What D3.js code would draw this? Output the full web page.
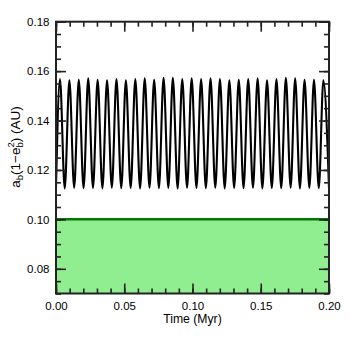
<!DOCTYPE html>
<html>
<head>
<meta charset="utf-8">
<script src="https://cdn.jsdelivr.net/npm/d3@7"></script>
<style>
  body { margin: 0; background: #fff; }
  text { font-family: "Liberation Sans", Arial, sans-serif; }
</style>
</head>
<body>
<script>
// peaks and troughs of a_b(1-e_b^2)
const peakTimes = [0.0029, 0.0098, 0.0167, 0.0236, 0.0305, 0.0374, 0.0443, 0.0512, 0.0581, 0.0650,
  0.0719, 0.0788, 0.0856, 0.0925, 0.0994, 0.1063, 0.1132, 0.1201, 0.1270, 0.1339,
  0.1408, 0.1477, 0.1546, 0.1615, 0.1684, 0.1752, 0.1821, 0.1890, 0.1959]
const peakValues = [0.1568, 0.1563, 0.1565, 0.1571, 0.1565, 0.1563, 0.1568, 0.1563, 0.1568, 0.1571,
  0.1565, 0.1573, 0.1573, 0.1568, 0.1571, 0.1568, 0.1571, 0.1568, 0.1563, 0.1565,
  0.1568, 0.1571, 0.1563, 0.1568, 0.1573, 0.1571, 0.1565, 0.1565, 0.1563]
const troughTimes = [0.0000, 0.0064, 0.0133, 0.0202, 0.0271, 0.0340, 0.0409, 0.0478, 0.0547, 0.0616,
  0.0685, 0.0754, 0.0823, 0.0891, 0.0960, 0.1029, 0.1098, 0.1167, 0.1236, 0.1305,
  0.1374, 0.1443, 0.1512, 0.1581, 0.1650, 0.1719, 0.1787, 0.1856, 0.1925, 0.2000]
const troughValues = [0.1127, 0.1125, 0.1128, 0.1126, 0.1127, 0.1125, 0.1128, 0.1126, 0.1127, 0.1125,
  0.1128, 0.1126, 0.1127, 0.1125, 0.1128, 0.1127, 0.1126, 0.1128, 0.1125, 0.1127,
  0.1126, 0.1128, 0.1125, 0.1127, 0.1126, 0.1128, 0.1125, 0.1127, 0.1126, 0.1127]

// shaded region below this limit
const limitValue = 0.10

const xTicks = [0, 0.05, 0.10, 0.15, 0.20]
const yTicks = [0.08, 0.10, 0.12, 0.14, 0.16, 0.18]

const xDomain = [0, 0.2]
const yDomain = [0.07, 0.18]

// setup the plot area
const width = 350
const height = 350
const margin = { top: 21.7, right: 21, bottom: 56.5, left: 56 }

const svg = d3.select('body')
  .append('svg')
  .attr('width', width)
  .attr('height', height)

const xScale = d3.scaleLinear()
  .domain(xDomain)
  .range([margin.left, width - margin.right])

const yScale = d3.scaleLinear()
  .domain(yDomain)
  .range([height - margin.bottom, margin.top])

// green zone
svg.append('rect')
  .attr('x', xScale(xDomain[0]))
  .attr('y', yScale(limitValue))
  .attr('width', xScale(xDomain[1]) - xScale(xDomain[0]))
  .attr('height', yScale(yDomain[0]) - yScale(limitValue))
  .style('fill', '#90ee90')

svg.append('line')
  .attr('x1', xScale(xDomain[0]))
  .attr('x2', xScale(xDomain[1]))
  .attr('y1', yScale(limitValue))
  .attr('y2', yScale(limitValue))
  .style('stroke', '#007a00')
  .style('stroke-width', '2.5px')

// merge extrema into one time series
const points = peakTimes.map((t, i) => ({ t, v: peakValues[i] }))
  .concat(troughTimes.map((t, i) => ({ t, v: troughValues[i] })))
  .sort((a, b) => a.t - b.t)

const line = d3.line()
  .x(d => xScale(d.t))
  .y(d => yScale(d.v))
  .curve(d3.curveMonotoneX)

svg.append('clipPath')
  .attr('id', 'plotClip')
  .append('rect')
  .attr('x', xScale(xDomain[0]))
  .attr('y', yScale(yDomain[1]))
  .attr('width', xScale(xDomain[1]) - xScale(xDomain[0]))
  .attr('height', yScale(yDomain[0]) - yScale(yDomain[1]))

svg.append('path')
  .datum(points)
  .attr('clip-path', 'url(#plotClip)')
  .attr('d', line)
  .style('fill', 'none')
  .style('stroke', 'black')
  .style('stroke-width', '2.1px')
  .style('stroke-linejoin', 'round')

//
// axes: major and minor ticks pointing inward on all four sides
//
const xMinor = d3.range(0, 0.2001, 0.01)
const yMinor = d3.range(0.07, 0.1801, 0.005)
const fmt = d3.format('.2f')

function addAxis(axis, translate, cls) {
  const g = svg.append('g')
    .attr('class', cls)
    .attr('transform', translate)
    .attr('color', '#000')
    .call(axis)
  g.select('.domain').remove()
  g.selectAll('.tick line')
    .attr('stroke', '#222')
    .style('stroke-width', '1.6px')
  g.selectAll('.tick text')
    .attr('fill', '#000')
    .style('font-size', '11.5px')
  return g
}

const bottomY = yScale(yDomain[0])
const topY = yScale(yDomain[1])
const leftX = xScale(xDomain[0])
const rightX = xScale(xDomain[1])

addAxis(d3.axisBottom(xScale).tickValues(xMinor).tickSize(-5).tickFormat(''), `translate(0,${bottomY})`, 'xMinorB')
addAxis(d3.axisBottom(xScale).tickValues(xTicks).tickSize(-10).tickPadding(8).tickFormat(fmt), `translate(0,${bottomY})`, 'xAxisB')
addAxis(d3.axisTop(xScale).tickValues(xMinor).tickSize(-5).tickFormat(''), `translate(0,${topY})`, 'xMinorT')
addAxis(d3.axisTop(xScale).tickValues(xTicks).tickSize(-10).tickFormat(''), `translate(0,${topY})`, 'xAxisT')

addAxis(d3.axisLeft(yScale).tickValues(yMinor).tickSize(-5).tickFormat(''), `translate(${leftX},0)`, 'yMinorL')
addAxis(d3.axisLeft(yScale).tickValues(yTicks).tickSize(-10).tickPadding(6.5).tickFormat(fmt), `translate(${leftX},0)`, 'yAxisL')
addAxis(d3.axisRight(yScale).tickValues(yMinor).tickSize(-5).tickFormat(''), `translate(${rightX},0)`, 'yMinorR')
addAxis(d3.axisRight(yScale).tickValues(yTicks).tickSize(-10).tickFormat(''), `translate(${rightX},0)`, 'yAxisR')

// frame
svg.append('rect')
  .attr('x', leftX)
  .attr('y', topY)
  .attr('width', rightX - leftX)
  .attr('height', bottomY - topY)
  .style('fill', 'none')
  .style('stroke', '#222')
  .style('stroke-width', '2px')

// axis titles
svg.append('text')
  .attr('x', (leftX + rightX) / 2)
  .attr('y', 323)
  .attr('text-anchor', 'middle')
  .attr('fill', '#000')
  .style('font-size', '12.2px')
  .text('Time (Myr)')

const yLabel = svg.append('text')
  .attr('transform', 'translate(19.5,147) rotate(-90)')
  .attr('text-anchor', 'middle')
  .attr('fill', '#000')
  .style('font-size', '13.5px')
yLabel.append('tspan').text('a')
yLabel.append('tspan').attr('dy', 3.5).style('font-size', '9.5px').text('b')
yLabel.append('tspan').attr('dy', -3.5).text('(1\u2212e')
yLabel.append('tspan').attr('dy', 3.5).style('font-size', '9.5px').text('b')
yLabel.append('tspan').attr('dx', -5.3).attr('dy', -9).style('font-size', '9.5px').text('2')
yLabel.append('tspan').attr('dy', 5.5).text(') (AU)')
</script>
</body>
</html>
